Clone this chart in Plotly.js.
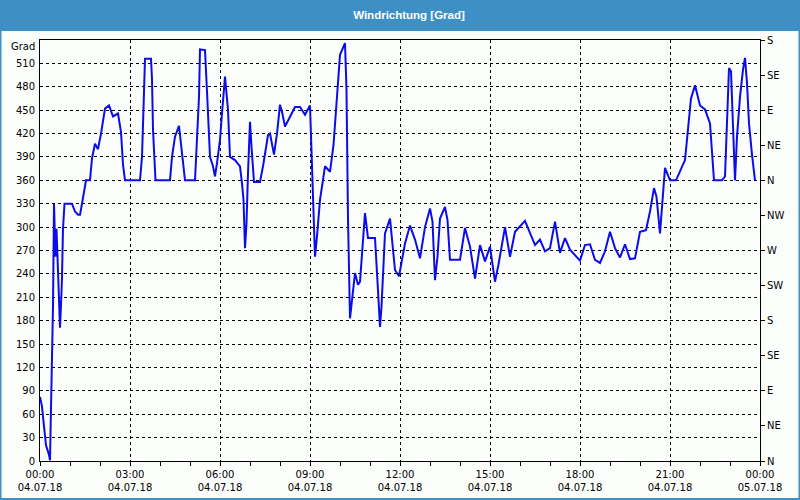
<!DOCTYPE html>
<html>
<head>
<meta charset="utf-8">
<script src="https://cdn.plot.ly/plotly-3.0.1.min.js"></script>
<style>
  html, body { margin: 0; padding: 0; background: #fcfefc; }
  #chart { width: 800px; height: 500px; }
</style>
</head>
<body>
<div id="chart"></div>
<script>
// ---- Data ----
const chartTitle = 'Windrichtung [Grad]';
const unitLabel = 'Grad';
const day = '2018-07-04';
const nextDay = '2018-07-05';

const times = [
  '00:00','00:04','00:06','00:08','00:10','00:12','00:18','00:20','00:22','00:24',
  '00:26','00:28','00:31','00:33','00:36','00:38','00:40','00:42','00:44','00:46',
  '00:49','01:04','01:10','01:16','01:20','01:24','01:28','01:32','01:40','01:44',
  '01:50','01:56','02:02','02:10','02:18','02:26','02:36','02:42','02:46','02:50',
  '03:20','03:24','03:27','03:30','03:42','03:44','03:46','03:49','03:51','04:20',
  '04:24','04:30','04:38','04:44','04:50','05:10','05:14','05:18','05:20','05:30',
  '05:34','05:37','05:40','05:46','05:50','05:54','06:00','06:04','06:10','06:16',
  '06:20','06:30','06:40','06:44','06:47','06:50','06:53','06:56','07:00','07:03',
  '07:08','07:20','07:26','07:36','07:40','07:48','07:54','08:00','08:04','08:10',
  '08:20','08:30','08:40','08:50','09:00','09:02','09:06','09:10','09:14','09:20',
  '09:30','09:40','09:47','09:50','10:00','10:10','10:13','10:16','10:20','10:30',
  '10:36','10:40','10:50','10:56','11:10','11:16','11:20','11:23','11:30','11:40',
  '11:43','11:50','11:58','12:03','12:10','12:20','12:30','12:40','12:50','13:00',
  '13:05','13:10','13:15','13:20','13:30','13:35','13:40','14:00','14:10','14:20',
  '14:30','14:40','14:50','15:00','15:10','15:17','15:30','15:40','15:50','16:10',
  '16:23','16:30','16:40','16:50','17:00','17:10','17:20','17:30','17:40','18:00',
  '18:10','18:20','18:30','18:40','18:50','19:00','19:10','19:20','19:30','19:40',
  '19:50','20:00','20:12','20:20','20:28','20:33','20:40','20:43','20:50','21:00',
  '21:12','21:30','21:36','21:42','21:50','22:00','22:10','22:20','22:28','22:44',
  '22:50','22:54','22:58','23:02','23:06','23:10','23:14','23:20','23:26','23:30',
  '23:34','23:38','23:44','23:50'
];

const direction = [
  82, 70, 57, 44, 31, 20, 8, 1, 68, 134,
  198, 330, 262, 298, 232, 203, 171, 200, 235, 298,
  330, 330, 320, 316, 316, 330, 345, 360, 360, 388,
  407, 400, 420, 452, 456, 442, 446, 422, 380, 360,
  360, 390, 452, 516, 516, 490, 425, 390, 360, 360,
  390, 416, 430, 395, 360, 360, 420, 467, 528, 527,
  474, 421, 390, 378, 365, 382, 412, 446, 493, 450,
  390, 386, 378, 356, 335, 273, 305, 369, 435, 403,
  358, 358, 378, 418, 420, 393, 420, 457, 448, 429,
  442, 454, 454, 444, 456, 412, 339, 262, 288, 335,
  378, 371, 405, 429, 521, 536, 476, 311, 183, 241,
  226, 230, 318, 286, 286, 219, 172, 198, 292, 311,
  288, 245, 237, 254, 279, 302, 284, 260, 300, 324,
  307, 232, 262, 311, 326, 309, 258, 258, 299, 275,
  234, 277, 256, 275, 230, 252, 300, 262, 294, 308,
  287, 277, 284, 269, 273, 307, 267, 286, 271, 257,
  277, 278, 258, 254, 269, 294, 273, 261, 278, 259,
  260, 294, 296, 320, 350, 339, 292, 320, 376, 360,
  360, 386, 425, 465, 482, 456, 451, 433, 360, 360,
  365, 425, 504, 500, 425, 360, 416, 467, 502, 517,
  485, 433, 393, 360
];

const leftTicks = [0, 30, 60, 90, 120, 150, 180, 210, 240, 270, 300, 330, 360, 390, 420, 450, 480, 510];
const compassTicks = [0, 45, 90, 135, 180, 225, 270, 315, 360, 405, 450, 495, 540];
const compassLabels = ['N', 'NE', 'E', 'SE', 'S', 'SW', 'W', 'NW', 'N', 'NE', 'E', 'SE', 'S'];

// ---- Build chart ----
const xs = times.map(t => day + ' ' + t);

const W = 800, H = 500, ML = 40, MR = 40, MT = 40, MB = 39;
const PW = W - ML - MR, PH = H - MT - MB;
const px = x => (x - ML) / PW;          // page px -> paper x
const py = y => (H - MB - y) / PH;      // page px -> paper y

const barColor = '#3c90c6';
const tickFont = { family: 'DejaVu Sans, Tahoma, sans-serif', size: 10, color: '#000' };

const traces = [
  {
    x: xs, y: direction, type: 'scatter', mode: 'lines',
    line: { color: 'rgb(12,12,235)', width: 2 },
    hoverinfo: 'x+y', showlegend: false
  },
  {
    x: [xs[0]], y: [0], type: 'scatter', mode: 'markers',
    marker: { opacity: 0 }, yaxis: 'y2', hoverinfo: 'skip', showlegend: false
  }
];

const layout = {
  width: W, height: H,
  margin: { l: ML, r: MR, t: MT, b: MB, pad: 0 },
  paper_bgcolor: '#fcfefc',
  plot_bgcolor: '#fcfefc',
  title: {
    text: chartTitle,
    font: { family: 'Liberation Sans, Arial, sans-serif', size: 11.5, weight: 'bold', color: '#ffffff' },
    xref: 'container', x: 409 / W, xanchor: 'center',
    yref: 'container', y: 1 - 15 / H, yanchor: 'middle'
  },
  xaxis: {
    type: 'date',
    range: [day + ' 00:00', nextDay + ' 00:00'],
    tickmode: 'linear', tick0: day + ' 00:00', dtick: 3 * 3600 * 1000,
    tickformat: '%H:%M<br>%d.%m.%y',
    ticks: 'outside', ticklen: 4, tickcolor: '#000', tickwidth: 1,
    tickfont: tickFont,
    showgrid: true, gridcolor: '#000', gridwidth: 1, griddash: '3px,3px',
    showline: true, linecolor: '#000', linewidth: 1, mirror: true,
    zeroline: false, fixedrange: true,
    minor: { dtick: 3600 * 1000, ticks: 'outside', ticklen: 4, tickcolor: '#000', showgrid: false }
  },
  yaxis: {
    range: [0, 540],
    tickmode: 'array', tickvals: leftTicks,
    ticks: '', tickfont: tickFont, ticklabelstandoff: 2,
    showgrid: true, gridcolor: '#000', gridwidth: 1, griddash: '3px,3px',
    showline: true, linecolor: '#000', linewidth: 1, mirror: true,
    zeroline: false, fixedrange: true
  },
  yaxis2: {
    overlaying: 'y', side: 'right',
    range: [0, 540],
    tickmode: 'array', tickvals: compassTicks, ticktext: compassLabels,
    ticks: 'outside', ticklen: 4, tickcolor: '#000',
    tickfont: tickFont,
    showgrid: false, showline: false, zeroline: false, fixedrange: true
  },
  shapes: [
    { type: 'rect', xref: 'paper', yref: 'paper', layer: 'below',
      x0: px(0), x1: px(W), y0: py(31), y1: py(0),
      fillcolor: barColor, line: { width: 0 } },
    { type: 'rect', xref: 'paper', yref: 'paper', layer: 'above',
      x0: px(0.5), x1: px(W - 0.5), y0: py(H - 1), y1: py(0.5),
      fillcolor: 'rgba(0,0,0,0)', line: { color: barColor, width: 2 } }
  ],
  annotations: [
    { text: unitLabel, xref: 'paper', yref: 'paper',
      x: px(37), y: py(46), xanchor: 'right', yanchor: 'middle',
      showarrow: false, font: tickFont }
  ]
};

Plotly.newPlot('chart', traces, layout, { staticPlot: true, displayModeBar: false });
</script>
</body>
</html>
